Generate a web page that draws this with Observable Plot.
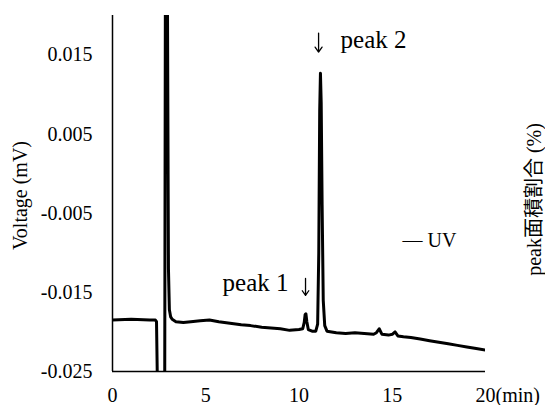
<!DOCTYPE html>
<html>
<head>
<meta charset="utf-8">
<script src="https://cdn.jsdelivr.net/npm/d3@7"></script>
<script src="https://cdn.jsdelivr.net/npm/@observablehq/plot@0.6"></script>
<style>
  html, body { margin: 0; padding: 0; background: white; }
</style>
</head>
<body>
<div id="chart"></div>
<script>
// Chromatogram trace (time in min, voltage in mV)
const time = [0, 1, 2, 2.3, 2.36, 2.41, 2.80, 2.84, 2.88, 2.95, 3.0, 3.05, 3.12, 3.2, 3.4, 3.8, 4.2, 4.7, 5.2, 5.7, 6.3, 6.9, 7.4, 8.0, 8.5, 9.0, 9.5, 10.0, 10.2, 10.28, 10.33, 10.37, 10.42, 10.5, 10.7, 10.9, 11.0, 11.06, 11.11, 11.15, 11.19, 11.24, 11.3, 11.38, 11.5, 12.0, 12.5, 13.0, 13.5, 14.0, 14.15, 14.3, 14.45, 14.8, 15.0, 15.15, 15.3, 15.6, 16.0, 16.5, 17.0, 17.5, 18.0, 18.5, 19.0, 19.5, 20.0];
const voltage = [-0.0185, -0.0184, -0.0185, -0.0185, -0.0187, -0.027, -0.027, 0.03, 0.05, 0.02, -0.012, -0.0172, -0.0181, -0.0184, -0.0187, -0.0188, -0.0187, -0.0186, -0.0185, -0.0187, -0.0189, -0.0191, -0.0192, -0.0194, -0.0195, -0.0196, -0.0198, -0.0197, -0.0196, -0.0188, -0.0178, -0.0177, -0.0187, -0.0197, -0.0199, -0.0199, -0.0190, -0.010, 0.008, 0.0127, 0.009, -0.004, -0.0160, -0.0192, -0.0199, -0.0201, -0.0202, -0.0201, -0.0202, -0.0203, -0.0201, -0.0196, -0.0203, -0.0204, -0.0203, -0.0200, -0.0205, -0.0206, -0.0207, -0.0209, -0.0211, -0.0213, -0.0215, -0.0217, -0.0219, -0.0221, -0.0223];

const xTicks = [0, 5, 10, 15, 20];
const yTicks = [-0.025, -0.015, -0.005, 0.005, 0.015];

// Peak annotations (arrow position and label)
const peakNames = ["peak 2", "peak 1"];
const arrowTime = [11.05, 10.35];
const arrowTop = [0.01778, -0.01323];
const arrowBottom = [0.01538, -0.01538];
const labelY = [0.0169, -0.01386];
const labelSide = ["right", "left"];

const seriesName = "UV";
const yLabel = "Voltage (mV)";
const y2Label = "peak面積割合 (%)";
const xUnit = "(min)";

const trace = time.map((t, i) => ({t, v: voltage[i]}));
const peaks = peakNames.map((name, i) => ({name, t: arrowTime[i], y1: arrowTop[i], y2: arrowBottom[i], ly: labelY[i], side: labelSide[i]}));

const ff = "Liberation Serif, DejaVu Serif, Noto Sans CJK JP, serif";
const T = {fontSize: 20, fontFamily: ff};

const chart = Plot.plot({
  width: 545,
  height: 405,
  marginLeft: 112,
  marginRight: 60,
  marginTop: 15,
  marginBottom: 34,
  style: "font-family: " + ff + "; font-size: 20px; color: black; background: white; overflow: visible;",
  x: {domain: [0, 20]},
  y: {domain: [-0.025, 0.020]},
  marks: [
    Plot.axisX(xTicks, {...T, tickSize: 0, tickPadding: 16, tickFormat: d => String(d), label: null}),
    Plot.axisY(yTicks, {...T, tickSize: 0, tickPadding: 20, tickFormat: d => d.toFixed(3), label: null}),
    Plot.ruleX([0], {stroke: "black", strokeWidth: 1.5}),
    Plot.ruleY([-0.025], {stroke: "black", strokeWidth: 1.5}),
    Plot.line(trace, {x: "t", y: "v", stroke: "black", strokeWidth: 3, strokeLinejoin: "round", clip: true}),
    Plot.text([xUnit], {...T, x: 20, y: -0.025, dx: 10, dy: 16, textAnchor: "start", lineAnchor: "top"}),
    Plot.arrow(peaks, {x: "t", y1: "y1", y2: "y2", stroke: "black", strokeWidth: 1.3, headLength: 7, headAngle: 70}),
    Plot.text(peaks.filter(d => d.side === "right"), {...T, fontSize: 25, x: "t", y: "ly", text: "name", textAnchor: "start", dx: 22}),
    Plot.text(peaks.filter(d => d.side === "left"), {...T, fontSize: 25, x: "t", y: "ly", text: "name", textAnchor: "end", dx: -17}),
    Plot.text(["\u2014\u00a0" + seriesName], {...T, frameAnchor: "right", dx: -83, dy: 47, textAnchor: "start"}),
    Plot.text([yLabel], {...T, frameAnchor: "left", dx: -92, dy: 2, rotate: -90, textAnchor: "middle"}),
    Plot.text([y2Label], {...T, frameAnchor: "right", dx: 49, dy: 6, rotate: -90, textAnchor: "middle"})
  ]
});
document.getElementById("chart").appendChild(chart);
</script>
</body>
</html>
